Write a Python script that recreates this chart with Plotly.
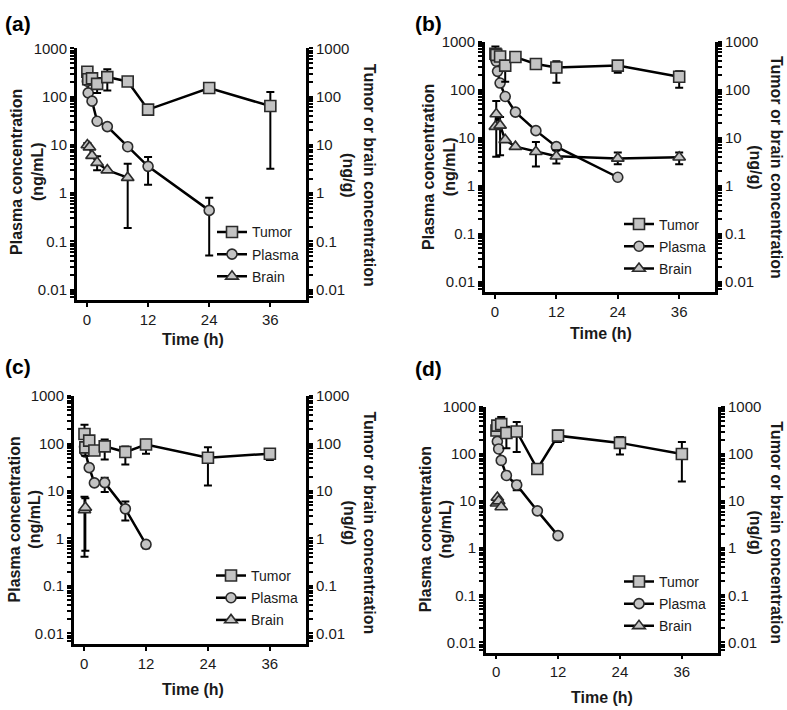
import plotly.graph_objects as go

W, H = 787, 710

# ---------------- data (time in h, concentration) ----------------
# Panel (a)
a_tumor_t = [0.083, 0.25, 1, 2, 4, 8, 12, 24, 36]
a_tumor = [330, 230, 240, 185, 255, 207, 54, 152, 64]
a_tumor_hi = [None, None, None, 245, 370, None, None, 178, 125]
a_tumor_lo = [None, None, None, 120, 135, None, None, 125, 3.2]
a_plasma_t = [0.083, 0.25, 1, 2, 4, 8, 12, 24]
a_plasma = [210, 120, 81, 31, 24, 9.2, 3.6, 0.44]
a_plasma_hi = [None, None, None, None, None, None, 5.6, 0.8]
a_plasma_lo = [None, None, None, None, None, None, 1.5, 0.051]
a_brain_t = [0.083, 0.5, 1, 2, 4, 8]
a_brain = [10, 9, 6, 4.3, 3.0, 2.1]
a_brain_hi = [11, None, None, 5.8, None, 4.1]
a_brain_lo = [9, None, None, 3.0, None, 0.19]

# Panel (b)
b_tumor_t = [0.083, 0.25, 1, 2, 4, 8, 12, 24, 36]
b_tumor = [560, 530, 490, 316, 476, 342, 288, 316, 185]
b_tumor_hi = [790, None, None, None, None, None, 388, 359, 242]
b_tumor_lo = [None, None, None, 145, None, None, 139, 224, 110]
b_plasma_t = [0.25, 0.5, 1, 2, 4, 8, 12, 24]
b_plasma = [390, 240, 137, 72, 34, 14, 6.5, 1.5]
b_plasma_hi = [None] * 8
b_plasma_lo = [None] * 8
b_brain_t = [0.083, 0.25, 1, 2, 4, 8, 12, 24, 36]
b_brain = [17, 31, 18, 9, 6.5, 5.1, 4.1, 3.7, 3.9]
b_brain_hi = [None, 58, 27, None, None, 8.1, 5.5, 4.9, 4.9]
b_brain_lo = [None, 4.0, 4.3, None, None, 2.5, 2.9, 2.8, 2.8]

# Panel (c)
c_tumor_t = [0.083, 0.25, 1, 2, 4, 8, 12, 24, 36]
c_tumor = [158, 83, 115, 71, 87, 66, 95, 50, 61]
c_tumor_hi = [248, None, None, None, 121, 87, 120, 83, 71]
c_tumor_lo = [None, 55, None, None, 46, 36, 61, 13, 45]
c_plasma_t = [0.083, 0.25, 1, 2, 4, 8, 12]
c_plasma = [85, 66, 31, 14.8, 15, 4.2, 0.75]
c_plasma_hi = [None, None, None, None, 19, 6.0, 0.85]
c_plasma_lo = [None, None, None, None, 9.5, 2.4, 0.62]
c_brain_t = [0.083, 0.25]
c_brain = [4.0, 4.5]
c_brain_hi = [7.6, 7.0]
c_brain_lo = [0.41, 0.55]

# Panel (d)
d_tumor_t = [0.083, 0.25, 1, 2, 4, 8, 12, 24, 36]
d_tumor = [316, 400, 430, 280, 300, 48, 245, 172, 100]
d_tumor_hi = [None, None, 611, 380, 478, None, 316, 229, 179]
d_tumor_lo = [None, None, None, 133, 110, None, 179, 97, 26]
d_plasma_t = [0.25, 0.5, 1, 2, 4, 8, 12]
d_plasma = [185, 128, 73, 35, 22, 6.2, 1.85]
d_plasma_hi = [None, None, None, None, 27, None, None]
d_plasma_lo = [None, None, None, None, 17, None, None]
d_brain_t = [0.083, 0.25, 0.5, 1]
d_brain = [9.0, 11.9, 10, 7.5]
d_brain_hi = [None] * 4
d_brain_lo = [None] * 4

y_major_vals = [0.01, 0.1, 1, 10, 100, 1000]
y_major_text = ["0.01", "0.1", "1", "10", "100", "1000"]
x_tickvals = [0, 12, 24, 36]
x_ticktext = ["0", "12", "24", "36"]
series_names = ["Tumor", "Plasma", "Brain"]
panel_letters = ["(a)", "(b)", "(c)", "(d)"]

panels = [
    dict(tumor=(a_tumor_t, a_tumor, a_tumor_hi, a_tumor_lo),
         plasma=(a_plasma_t, a_plasma, a_plasma_hi, a_plasma_lo),
         brain=(a_brain_t, a_brain, a_brain_hi, a_brain_lo)),
    dict(tumor=(b_tumor_t, b_tumor, b_tumor_hi, b_tumor_lo),
         plasma=(b_plasma_t, b_plasma, b_plasma_hi, b_plasma_lo),
         brain=(b_brain_t, b_brain, b_brain_hi, b_brain_lo)),
    dict(tumor=(c_tumor_t, c_tumor, c_tumor_hi, c_tumor_lo),
         plasma=(c_plasma_t, c_plasma, c_plasma_hi, c_plasma_lo),
         brain=(c_brain_t, c_brain, c_brain_hi, c_brain_lo)),
    dict(tumor=(d_tumor_t, d_tumor, d_tumor_hi, d_tumor_lo),
         plasma=(d_plasma_t, d_plasma, d_plasma_hi, d_plasma_lo),
         brain=(d_brain_t, d_brain, d_brain_hi, d_brain_lo)),
]

# log-axis ticks: decades labelled, 2..9 sub-ticks unlabelled
y_tickvals, y_ticktext = [], []
for e in range(-2, 3):
    for m in range(1, 10):
        v = m * 10 ** e
        y_tickvals.append(v)
        y_ticktext.append(y_major_text[e + 2] if m == 1 else "")
for m in range(6, 10):
    y_tickvals.append(m * 10 ** -3)
    y_ticktext.append("")
y_tickvals.append(1000)
y_ticktext.append(y_major_text[-1])

# ---------------- layout geometry (pixels) ----------------
boxes = [(77, 306, 40, 295), (485, 715, 33, 287), (74, 306, 392, 643), (486, 718, 403, 652)]
letter_pos = [(3, 15), (413, 15), (3, 362), (413, 364)]
left_title_pos = [(27, 165), (439, 160), (25, 517), (436, 527)]
right_title_pos = [(359, 168), (766, 160), (359, 520), (766, 530)]
time_title_pos = [(193, 335), (601, 329), (193, 689), (602, 697)]
legend_pos = [(212, 210), (619, 202), (211, 558), (619, 564)]

FONT = "Liberation Sans, Arial, Helvetica, sans-serif"
TXT = "#1a1a1a"
FILL = "#c3c3c3"
EDGE = "#2b2b2b"

def px(x):
    return x / W

def py(y):
    return 1 - y / H

fig = go.Figure()
layout = dict(
    width=W, height=H, margin=dict(l=0, r=0, t=0, b=0),
    paper_bgcolor="white", plot_bgcolor="white",
    font=dict(family=FONT, size=15, color=TXT),
    showlegend=True, annotations=[],
)

styles = {
    "tumor": dict(symbol="square", size=11, axis="right"),
    "plasma": dict(symbol="circle", size=10, axis="left"),
    "brain": dict(symbol="triangle-up", size=11, axis="right"),
}

for i, p in enumerate(panels):
    n = i + 1
    xa = "x" if n == 1 else f"x{n}"
    yl = "y" if n == 1 else f"y{n}"
    yr = f"y{n + 4}"
    leg = "legend" if n == 1 else f"legend{n}"
    l, r, t, b = boxes[i]

    for key, nm in zip(["tumor", "plasma", "brain"], series_names):
        tt, vv, hi, lo = p[key]
        plus = [(h - v) if h is not None else 0 for h, v in zip(hi, vv)]
        minus = [(v - lo_) if lo_ is not None else 0 for lo_, v in zip(lo, vv)]
        st = styles[key]
        fig.add_trace(go.Scatter(
            x=tt, y=vv, mode="lines+markers", name=nm,
            legendgroup=f"g{n}{key}",
            line=dict(color="black", width=2.5),
            marker=dict(symbol=st["symbol"], size=st["size"], color=FILL,
                        line=dict(color=EDGE, width=1.6)),
            error_y=dict(type="data", symmetric=False, array=plus, arrayminus=minus,
                         color="black", thickness=2, width=4),
            xaxis=xa, yaxis=(yr if st["axis"] == "right" else yl),
            legend=leg, cliponaxis=False,
        ))

    xkey = "xaxis" if n == 1 else f"xaxis{n}"
    ylkey = "yaxis" if n == 1 else f"yaxis{n}"
    yrkey = f"yaxis{n + 4}"
    layout[xkey] = dict(
        domain=[px(l), px(r)], anchor=yl, range=[-1.95, 43],
        tickmode="array", tickvals=x_tickvals, ticktext=x_ticktext,
        ticks="outside", ticklen=4, tickwidth=2, tickcolor="black",
        showline=True, linecolor="black", linewidth=2.5,
        showgrid=False, zeroline=False, tickfont=dict(size=15, color=TXT),
    )
    common_y = dict(
        type="log", range=[-2.22, 3.0],
        tickmode="array", tickvals=y_tickvals, ticktext=y_ticktext,
        ticks="outside", ticklen=4, tickwidth=1.5, tickcolor="black",
        showline=True, linecolor="black", linewidth=3,
        showgrid=False, zeroline=False, tickfont=dict(size=15, color=TXT),
    )
    layout[ylkey] = dict(common_y, domain=[py(b), py(t)], anchor=xa, side="left")
    layout[yrkey] = dict(common_y, domain=[py(b), py(t)], anchor=xa, side="right",
                         overlaying=yl)

    lx, ly = legend_pos[i]
    layout[leg] = dict(
        x=px(lx), y=py(ly), xanchor="left", yanchor="top",
        bgcolor="rgba(0,0,0,0)", borderwidth=0,
        font=dict(size=14, color=TXT, family=FONT),
        traceorder="grouped", tracegroupgap=1, itemwidth=30,
    )

    ax_, ay_ = letter_pos[i]
    layout["annotations"].append(dict(
        text=f"<b>{panel_letters[i]}</b>", x=px(ax_), y=py(ay_), xref="paper", yref="paper",
        xanchor="left", yanchor="middle", showarrow=False, font=dict(size=21, color="black")))
    tx, ty = left_title_pos[i]
    layout["annotations"].append(dict(
        text="<b>Plasma concentration<br>(ng/mL)</b>", x=px(tx), y=py(ty), xref="paper", yref="paper",
        xanchor="center", yanchor="middle", textangle=-90, showarrow=False,
        font=dict(size=16, color=TXT)))
    tx, ty = right_title_pos[i]
    layout["annotations"].append(dict(
        text="<b>Tumor or brain concentration<br>(ng/g)</b>", x=px(tx), y=py(ty), xref="paper", yref="paper",
        xanchor="center", yanchor="middle", textangle=90, showarrow=False,
        font=dict(size=16, color=TXT)))
    tx, ty = time_title_pos[i]
    layout["annotations"].append(dict(
        text="<b>Time (h)</b>", x=px(tx), y=py(ty), xref="paper", yref="paper",
        xanchor="center", yanchor="middle", showarrow=False,
        font=dict(size=16, color=TXT)))

fig.update_layout(**layout)
fig.write_html("out.html",
               config={"displayModeBar": False},
               post_script="document.body.style.margin='0';document.body.style.overflow='hidden';")
